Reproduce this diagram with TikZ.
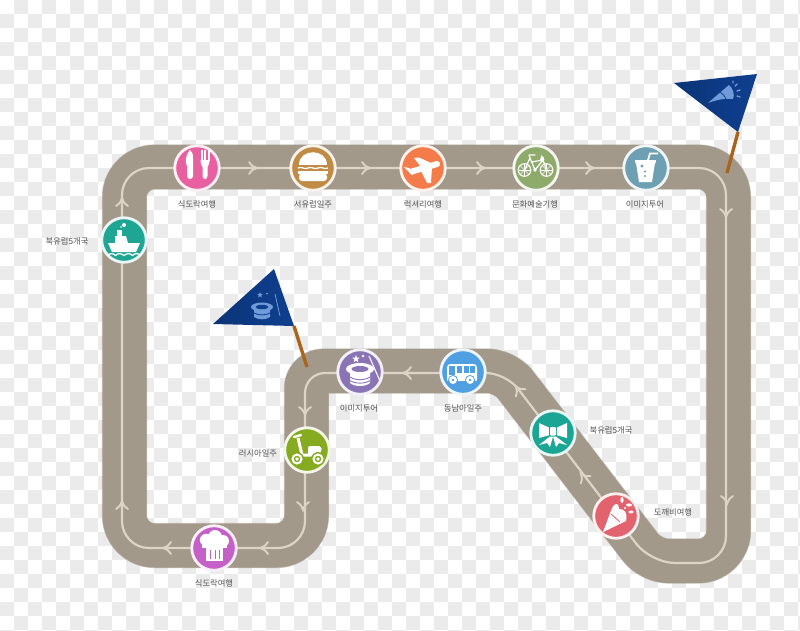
\documentclass[tikz,border=0pt]{standalone}
\usepackage{fontspec}
\newfontfamily\kr{Noto Sans CJK KR}
\definecolor{roadc}{HTML}{A3998A}
\definecolor{roadd}{HTML}{8F8675}
\definecolor{linec}{HTML}{DDD4C5}
\definecolor{chk}{HTML}{EBEBEB}
\definecolor{txt}{HTML}{555555}
\definecolor{flagc}{HTML}{0F3F8F}
\definecolor{flagd}{HTML}{0A3478}
\definecolor{flagi}{HTML}{6F9BD8}
\definecolor{polec}{HTML}{A8651E}
\tikzset{
  station/.style={circle,minimum size=44.5pt,inner sep=0pt,draw=#1!10!white,line width=2.8pt,fill=#1},
  lab/.style={font=\kr\fontsize{8.3}{10}\selectfont,text=txt,inner sep=0pt},
  chevron/.pic={\draw[linec,line width=1.9pt,line cap=round,line join=miter] (-6,-6) .. controls (-3,-2) .. (2,0) .. controls (-3,2) .. (-6,6);},
  pole/.style={polec,line width=3.4pt},
}
\definecolor{cfork}{HTML}{E8609F}
\definecolor{cburger}{HTML}{C08B45}
\definecolor{cplane}{HTML}{F47B4A}
\definecolor{cbike}{HTML}{8FAB6C}
\definecolor{ccup}{HTML}{6E9FB2}
\definecolor{cship}{HTML}{1FA594}
\definecolor{chat}{HTML}{8B74B6}
\definecolor{cbus}{HTML}{4F9FE3}
\definecolor{cscoot}{HTML}{86AB20}
\definecolor{cbow}{HTML}{1BA594}
\definecolor{cbouq}{HTML}{E2626E}
\definecolor{cchef}{HTML}{C560C9}
\begin{document}
\begin{tikzpicture}[x=1pt,y=-1pt]
\useasboundingbox (0,0) rectangle (800,630);
\fill[white] (0,0) rectangle (800,630);
% checker background
\foreach \j in {0,2,...,44}{\foreach \i in {1,3,...,57}{\fill[chk] (14*\i,14*\j) rectangle ++(14,14);}}
\foreach \j in {1,3,...,45}{\foreach \i in {0,2,...,56}{\fill[chk] (14*\i,14*\j) rectangle ++(14,14);}}
% band corners
\coordinate (s0) at (400,167);
\coordinate (c1) at (728.5,167);
\coordinate (c2) at (728.5,561);
\coordinate (c3) at (651,561);
\coordinate (c4) at (505,371);
\coordinate (c5) at (306.5,371);
\coordinate (c6) at (306.5,545.5);
\coordinate (c7) at (124.5,545.5);
\coordinate (c8) at (124.5,167);
% line corners
\coordinate (t0) at (400,168);
\coordinate (d1) at (726,168);
\coordinate (d2) at (726,563);
\coordinate (d3) at (651,563);
\coordinate (d4) at (506,373);
\coordinate (d5) at (305,373);
\coordinate (d6) at (305,548);
\coordinate (d7) at (122,548);
\coordinate (d8) at (122,168);
\draw[roadd,opacity=.45,line width=45.2pt,line join=round,rounded corners=30pt] (s0)--(c1)--(c2)[rounded corners=17pt]--(c3)--(c4)--(c5)[rounded corners=30pt]--(c6)--(c7)--(c8)--cycle;
\draw[roadc,line width=44pt,line join=round,rounded corners=30pt] (s0)--(c1)--(c2)[rounded corners=17pt]--(c3)--(c4)--(c5)[rounded corners=30pt]--(c6)--(c7)--(c8)--cycle;
\draw[linec,line width=2.2pt,rounded corners=27pt] (t0)--(d1)--(d2)[rounded corners=24pt]--(d3)[rounded corners=20pt]--(d4)--(d5)[rounded corners=27pt]--(d6)--(d7)--(d8)--cycle;
% chevrons
\foreach \x/\y/\r in {255/168/0,368/168/0,483/168/0,592/168/0,726/215/-90,727/502/-90,582/475/127,517/388/127,405/373/180,305/413/-90,303/508/-90,262/548/180,165/548/180,122/503/90,122/200/90}
  \pic[rotate=\r] at (\x,\y) {chevron};
% flags
\coordinate (fr) at (738,132);\coordinate (frb) at (727,173);
\coordinate (fl) at (294,326);\coordinate (flb) at (307,367);
\draw[pole] (fr)--(frb);
\draw[pole] (fl)--(flb);
\shade[left color=flagd,right color=flagc] (674,83)--(757,74)--(fr)--cycle;
\shade[left color=flagd,right color=flagc] (213,324)--(274,269)--(fl)--cycle;
% right flag icon: horn
\fill[flagi] (708,103) .. controls (716,96) and (723,90) .. (729,85) .. controls (733,88) and (735,95) .. (733,99) .. controls (725,98) and (716,100) .. (708,103)--cycle;
\draw[flagc,line width=.8pt] (720,92) .. controls (723,94) and (725,96) .. (726,99);
\draw[flagi,line width=1.4pt,line cap=round] (735,86)--(737,84) (737,91)--(740,90) (737,96)--(740,97) (733,81)--(733,83);
% left flag icon: hat
\begin{scope}[shift={(262,310)}]
\fill[flagi] (-8,-1)--(8,-1)--(8,7) .. controls (4,10) and (-4,10) .. (-8,7)--cycle;
\fill[flagi] (0,-3) ellipse[x radius=11,y radius=4.5];
\fill[flagc] (0,-3) ellipse[x radius=6.5,y radius=2.2];
\draw[flagc,line width=.8pt] (-8,3) .. controls (-4,5.5) and (4,5.5) .. (8,3);
\fill[flagi] (-2,-18)--(-1.2,-16)--(.8,-16)--(-.8,-14.6)--(-.2,-12.5)--(-2,-13.8)--(-3.8,-12.5)--(-3.2,-14.6)--(-4.8,-16)--(-2.8,-16)--cycle;
\fill[flagi] (5,-16.5) circle[radius=1];
\draw[flagi,line width=.8pt] (13,-16)--(18,6);
\end{scope}
% stations
\node[station=cfork] (fork) at (197,168) {};
\node[station=cburger] (burger) at (313,168) {};
\node[station=cplane] (plane) at (423,168) {};
\node[station=cbike] (bike) at (536,168) {};
\node[station=ccup] (cup) at (646,168) {};
\node[station=cship] (ship) at (124,240) {};
\node[station=chat] (hat) at (360,372) {};
\node[station=cbus] (bus) at (463,372) {};
\node[station=cscoot] (scoot) at (307,450) {};
\node[station=cbow] (bow) at (553,433) {};
\node[station=cbouq] (bouq) at (616,516) {};
\node[station=cchef] (chef) at (214,548) {};
% fork + knife
\begin{scope}[shift={(fork)}]
\fill[white] (-7,-18) .. controls (-12,-13) and (-12,-5) .. (-10,-2) -- (-10,8) .. controls (-10,12) and (-4,12) .. (-4,8) -- (-4,-10) .. controls (-4,-14) and (-5,-17) .. (-7,-18)--cycle;
\fill[white] (3.5,-18) rectangle (5.5,-7);\fill[white] (7,-18) rectangle (9,-7);\fill[white] (10.5,-18) rectangle (12.5,-7);
\fill[white] (3.5,-8) -- (12.5,-8) .. controls (12.5,-4) and (11,-2) .. (10.5,-1) -- (10.5,8) .. controls (10.5,12) and (5.5,12) .. (5.5,8) -- (5.5,-1) .. controls (5,-2) and (3.5,-4) .. (3.5,-8)--cycle;
\end{scope}
% burger
\begin{scope}[shift={(burger)}]
\fill[white] (-14,-3) .. controls (-14,-20) and (14,-20) .. (14,-3) -- cycle;
\draw[white,line width=1.3pt] (-15,0) .. controls (-11,-2) and (-9,2) .. (-5,0) .. controls (-2,-2) and (2,2) .. (5,0) .. controls (9,-2) and (11,2) .. (15,0);
\fill[white] (-15,3) rectangle (15,5.5);
\fill[white,rounded corners=3pt] (-14,5.5) -- (14,5.5) -- (14,13) -- (-14,13) -- cycle;
\end{scope}
% plane
\begin{scope}[shift={(plane)}]
\draw[white,line width=6pt,line cap=round] (-11,3.5)--(14,-4);
\fill[white] (-9,-10)--(-4,-10.5)--(8,-5)--(-2,-1)--cycle;
\fill[white] (-2,3)--(9,-1)--(8,15)--(4,15)--cycle;
\fill[white] (-19,-1)--(-14,0)--(-7,4)--(-11,7)--cycle;
\end{scope}
% bike
\begin{scope}[shift={(bike)},white]
\foreach \cx in {-11.5,10.5}{
  \draw[line width=1.1pt] (\cx,2) circle[radius=6.3];
  \foreach \a in {0,45,...,135}\draw[line width=.5pt] (\cx,2) ++(\a:6)--++(\a+180:12);
}
\draw[line width=1.2pt,line join=round,line cap=round] (-11.5,2)--(-6,-10)--(-1,2)--(7,-8)--(10.5,2) (-6,-10)--(-7,-13)--(-1,-13) (-4.5,-6)--(7,-8)--(7,-11);
\fill (-1,2) circle[radius=1.8];
\fill (5.5,-13)--(8.5,-8)--(4,-8)--cycle;
\end{scope}
% cup
\begin{scope}[shift={(cup)}]
\fill[white] (-11,-8)--(10,-8)--(10,-5.5)--(-11,-5.5)--cycle;
\fill[white] (-10,-5)--(9,-5)--(6,14)--(-7,14)--cycle;
\draw[white,line width=1.8pt] (2,-8)--(4,-14.5)--(12,-14.5);
\fill[ccup] (-4,-2) circle[radius=1.7] (-1,3.5) circle[radius=1.1] (-1,8) circle[radius=1.1];
\end{scope}
% ship
\begin{scope}[shift={(ship)}]
\fill[white] (-16,3)--(16,3)--(12,12)--(-12,12)--cycle;
\fill[white] (-9,-4)--(2,-4)--(4,3)--(-9,3)--cycle;
\fill[white] (-7,-10) rectangle (-2,-4);
\fill[white] (0,-15) circle[radius=2];
\fill[white] (-3,-13) circle[radius=.8];
\draw[white,line width=1.2pt] (-17,15.5) .. controls (-14,13) and (-11,13) .. (-8.5,15.5) .. controls (-6,13) and (-3,13) .. (0,15.5) .. controls (3,13) and (6,13) .. (8.5,15.5) .. controls (11,13) and (14,13) .. (17,15.5);
\end{scope}
% hat
\begin{scope}[shift={(hat)}]
\fill[white] (-10,-2)--(10,-2)--(10,11) .. controls (5,15) and (-5,15) .. (-10,11)--cycle;
\fill[white] (0,-3) ellipse[x radius=14,y radius=6];
\fill[chat] (0,-3) ellipse[x radius=8.5,y radius=3];
\draw[chat,line width=.9pt] (-10,5) .. controls (-5,8.5) and (5,8.5) .. (10,5);
\draw[chat,line width=.9pt] (-10,8.5) .. controls (-5,12) and (5,12) .. (10,8.5);
\fill[white] (-4,-17)--(-3,-14.3)--(-.3,-14.3)--(-2.5,-12.5)--(-1.6,-9.7)--(-4,-11.3)--(-6.4,-9.7)--(-5.5,-12.5)--(-7.7,-14.3)--(-5,-14.3)--cycle;
\fill[white] (3,-16) circle[radius=1.3];
\draw[white,line width=1.1pt] (9,-16)--(20,9);
\end{scope}
% bus
\begin{scope}[shift={(bus)}]
\fill[white,rounded corners=3.5pt] (-16,-8)--(14,-8)--(14,11)--(-16,11)--cycle;
\foreach \wx in {-6,0.7,7.4}\fill[cbus] (\wx,-6) rectangle +(5,6.5);
\fill[cbus] (-14,-6) rectangle (-8.5,3);
\fill[cbus] (-16,9) rectangle (14,13);
\foreach \wx in {-10,7}{\fill[cbus] (\wx,8) circle[radius=5];\fill[white] (\wx,8) circle[radius=4];\fill[cbus] (\wx,8) circle[radius=1.3];}
\end{scope}
% scooter
\begin{scope}[shift={(scoot)}]
\draw[white,line width=3pt,line join=round] (-9,-12)--(-5,5)--(6,5) .. controls (8,0) and (10,-1) .. (12,-1);
\fill[white,rounded corners=2pt] (1,-4)--(14,-4)--(15,1)--(10,6)--(1,6)--cycle;
\draw[white,line width=2.4pt,line cap=round] (-13,-13)--(-6,-15);
\foreach \wx in {-10,11}{\fill[cscoot] (\wx,9) circle[radius=7];\draw[white,line width=2pt] (\wx,9) circle[radius=4.5];\fill[white] (\wx,9) circle[radius=1.8];}
\end{scope}
% bow
\begin{scope}[shift={(bow)}]
\fill[white] (-14,-10)--(-3,-5)--(-3,2)--(-14,5)--cycle;
\fill[white] (14,-10)--(3,-5)--(3,2)--(14,5)--cycle;
\fill[cbow] (-3.8,-6) rectangle (3.8,3);
\fill[white,rounded corners=1pt] (-3,-6) rectangle (3,2.5);
\fill[white] (-3,3.5)--(0,3.5)--(-3,14)--(-6,10)--(-14,12)--cycle;
\fill[white] (3,3.5)--(0,3.5)--(3,14)--(6,10)--(14,12)--cycle;
\end{scope}
% bouquet
\begin{scope}[shift={(bouq)}]
\fill[white] (-13,16)--(-4,-8)--(10,5)--cycle;
\fill[white] (-4,-8) .. controls (0,-15) and (3,-12) .. (3,-7) .. controls (8,-7) and (12,-4) .. (10,5) -- cycle;
\draw[cbouq,line width=.8pt] (-5,-2)--(4,6);
\fill[white] (6,-16) ellipse[x radius=1.6,y radius=3];
\fill[white] (13,-11) ellipse[x radius=3,y radius=1.6];
\fill[white] (15,-4) ellipse[x radius=2.6,y radius=1.4];
\fill[white] (9,-8) circle[radius=1.2];
\end{scope}
% chef hat
\begin{scope}[shift={(chef)}]
\fill[white] (-8,-3) rectangle (9,13);
\fill[white] (-8,-8) circle[radius=6.2] (1,-11) circle[radius=7] (9,-7) circle[radius=6];
\fill[white] (-12,-8) rectangle (13,0);
\foreach \sx in {-4,0.5,5}\fill[cchef] (\sx,2) rectangle +(1.2,8.5);
\end{scope}
% labels
\node[lab] (l1) at (197,204) {식도락여행};
\node[lab] (l2) at (313,204) {서유럽일주};
\node[lab] (l3) at (423,204) {럭셔리여행};
\node[lab] (l4) at (535,204) {문화예술기행};
\node[lab] (l5) at (645,204) {이미지투어};
\node[lab] (l6) at (67,241) {북유럽5개국};
\node[lab] (l7) at (359,408) {이미지투어};
\node[lab] (l8) at (463,408) {동남아일주};
\node[lab] (l9) at (258,453) {러시아일주};
\node[lab] (l10) at (611,430) {북유럽5개국};
\node[lab] (l11) at (673,512) {도깨비여행};
\node[lab] (l12) at (214,583) {식도락여행};
\end{tikzpicture}
\end{document}
